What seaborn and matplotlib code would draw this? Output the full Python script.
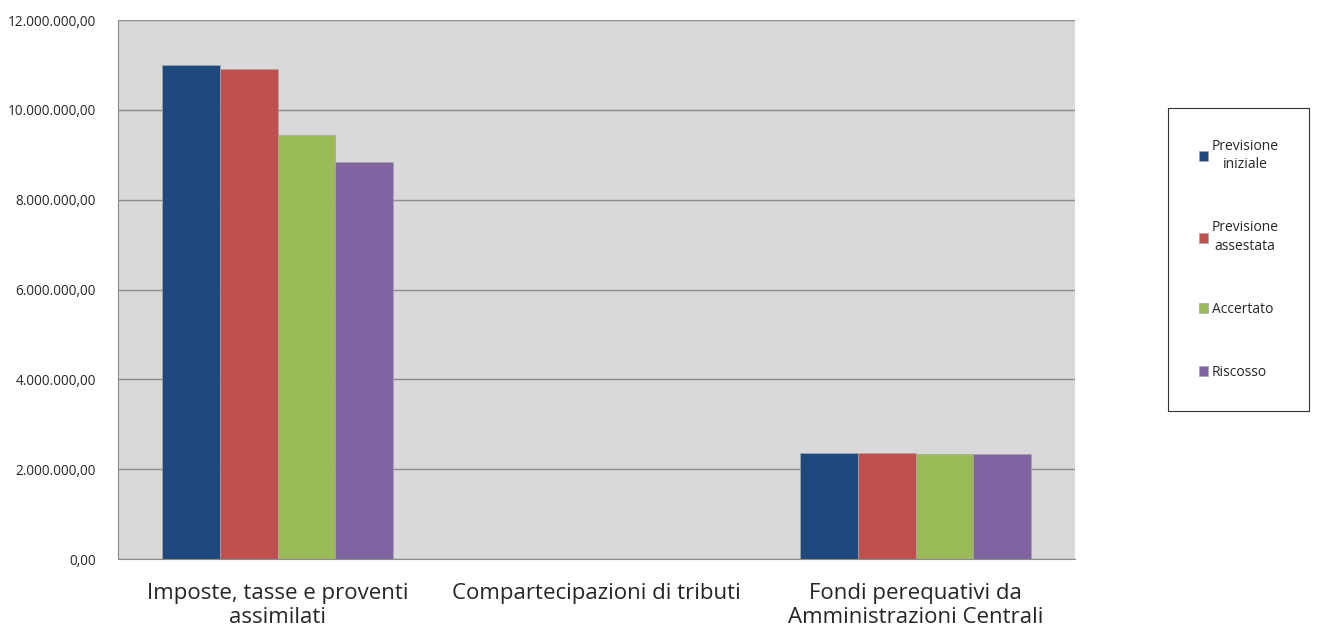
import pandas as pd
import numpy as np
import matplotlib.pyplot as plt
import seaborn as sns
from matplotlib.ticker import FuncFormatter, FixedLocator

# Dati
categorie = ["Imposte, tasse e proventi\nassimilati",
             "Compartecipazioni di tributi",
             "Fondi perequativi da\nAmministrazioni Centrali"]
serie = ["Previsione\niniziale", "Previsione\nassestata", "Accertato", "Riscosso"]
previsione_iniziale = [11000000, 0, 2360000]
previsione_assestata = [10910000, 0, 2360000]
accertato = [9440000, 0, 2340000]
riscosso = [8840000, 0, 2340000]
colori = ["#1F497D", "#C0504D", "#9BBB59", "#8064A2"]

valori = [previsione_iniziale, previsione_assestata, accertato, riscosso]
df = pd.DataFrame({
    "categoria": [c for s in serie for c in categorie],
    "serie": [s for s in serie for c in categorie],
    "valore": [v for vals in valori for v in vals],
})

sns.set_style("white")
plt.rcParams["font.family"] = ["Open Sans", "DejaVu Sans"]

fig = plt.figure(figsize=(13.2, 6.37), dpi=100)
ax = fig.add_axes([0.0894, 0.1224, 0.7250, 0.8462])
ax.set_facecolor("#D9D9D9")

sns.barplot(data=df, x="categoria", y="valore", hue="serie", palette=colori,
            width=0.727, ax=ax, edgecolor="#A6A6A6", linewidth=0.5, saturation=1)

ax.set_ylim(0, 12000000)
ax.set_xlim(-0.5, 2.5)
ax.set_yticks(np.arange(0, 12000001, 2000000))
ax.yaxis.set_major_formatter(FuncFormatter(
    lambda v, p: f"{v:,.2f}".replace(",", "X").replace(".", ",").replace("X", ".")))
ax.grid(axis="y", color="#8C8C8C", linewidth=1)
ax.set_axisbelow(True)

for s in ["top", "right"]:
    ax.spines[s].set_visible(False)
for s in ["left", "bottom"]:
    ax.spines[s].set_color("#8C8C8C")

ax.tick_params(axis="y", length=5, color="#8C8C8C", labelsize=9.8, pad=11)
ax.tick_params(axis="x", which="major", length=0, labelsize=16, pad=17)
for t in ax.get_xticklabels():
    t.set_linespacing(1.22)
ax.xaxis.set_minor_locator(FixedLocator([-0.5, 0.5, 1.5, 2.5]))
ax.tick_params(axis="x", which="minor", length=7, color="#8C8C8C")
ax.set_xlabel("")
ax.set_ylabel("")

leg = ax.legend(loc="upper left", bbox_to_anchor=(1168 / 1320, 1 - 108 / 637),
                bbox_transform=fig.transFigure, frameon=True,
                fancybox=False, edgecolor="black", fontsize=10, title=None,
                handlelength=0.7, handleheight=0.7, handletextpad=0.25,
                labelspacing=3.45, borderpad=2.2, borderaxespad=0)
leg.get_frame().set_linewidth(0.8)
for t in leg.get_texts():
    t.set_multialignment("center")
    t.set_linespacing(1.35)

fig.savefig("out.png", dpi=100)
